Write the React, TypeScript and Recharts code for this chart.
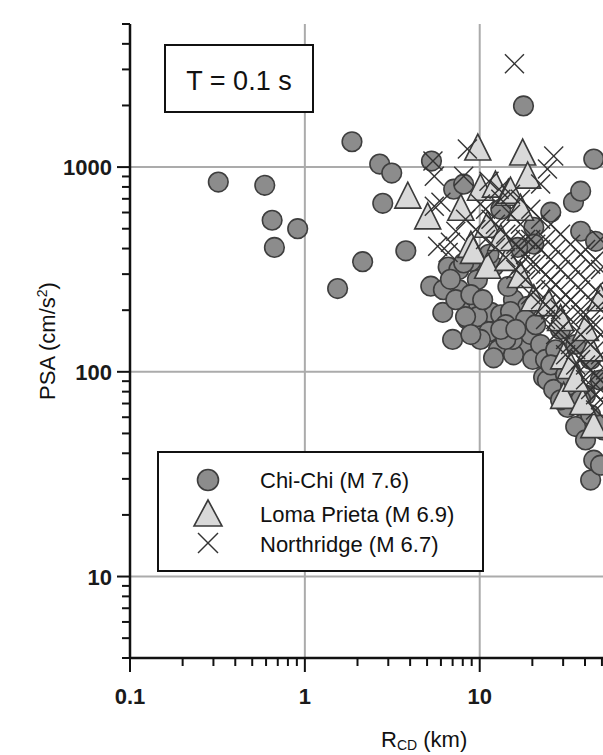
import React from 'react';
import { ScatterChart, Scatter, XAxis, YAxis, CartesianGrid } from 'recharts';

// ---- Data (R_CD km, PSA cm/s^2) ----
const chiChiPoints: [number, number][] = [
  [0.32, 845], [0.59, 815], [0.65, 550], [0.67, 405], [0.91, 500],
  [1.86, 1330], [2.14, 345], [1.54, 255], [2.68, 1035], [3.14, 935],
  [2.79, 665], [3.78, 390], [5.3, 1070], [17.8, 1990], [44.9, 1094],
  [7.1, 780], [8.1, 825], [6.6, 325], [7.6, 316], [5.25, 262],
  [6.15, 195], [7.0, 144], [8.5, 213], [9.9, 209], [11.6, 195],
  [11.6, 157], [12.8, 128], [12.0, 117], [17.1, 176], [17.8, 133],
  [15.6, 121], [21.4, 118], [23.2, 94], [27.9, 79], [31.8, 67],
  [39.3, 56], [44.9, 37], [43.1, 29.6], [15.6, 225], [18.8, 209],
  [8.5, 180], [9.7, 186], [13.2, 190], [15.0, 197], [18.3, 180],
  [8.3, 186], [11.3, 157], [15.4, 144], [20.1, 115], [24.8, 118],
  [24.4, 91], [26.5, 82], [29.0, 73], [35.4, 54], [37.8, 486],
  [34.4, 674], [37.8, 763], [46, 434], [25.5, 602], [20.4, 508],
  [20.4, 420], [16.5, 405], [13.2, 622], [12.0, 327], [14.5, 261],
  [9.7, 282], [7.6, 252], [6.2, 252], [8.9, 346], [11.3, 375],
  [6.8, 283], [8.1, 340], [40.3, 46.5], [29, 161], [35.4, 136],
  [43.1, 115], [49, 91], [33, 102], [40.3, 77], [51, 52],
  [7.3, 225], [8.9, 238], [10.4, 225], [14.1, 170], [19.6, 152],
  [22.3, 136], [23.8, 115], [14.1, 144], [10.1, 144], [8.9, 152],
  [13.2, 161], [16.1, 161], [20.9, 170], [27.2, 128], [29, 108],
  [33.1, 86.5], [37.8, 73], [43.1, 61.6], [49.1, 55], [49.1, 35],
  [25.5, 108], [31, 96.6],
];

const lomaPrietaPoints: [number, number][] = [
  [3.88, 713], [5.04, 565], [9.75, 1225], [17.6, 1158], [10.1, 780],
  [12.3, 807], [14.6, 737], [18.8, 893], [7.8, 622], [8.9, 410],
  [9.2, 383], [11.1, 324], [14.5, 354], [11.1, 514], [15.0, 754],
  [17.1, 292], [20.4, 225], [24.8, 213], [30.2, 117], [33.1, 105],
  [43.1, 128], [30.2, 75], [44.9, 54], [38.8, 70], [13.2, 443],
  [17.1, 622], [29, 180], [40.3, 161], [49, 225], [35.4, 91],
];

const northridgePoints: [number, number][] = [
  [15.8, 3200], [5.4, 1070], [8.5, 1225], [26.5, 1132], [5.5, 903],
  [8.1, 903], [6.0, 674], [5.5, 644], [5.75, 410], [6.8, 429],
  [6.6, 383], [8.3, 556], [7.3, 486], [10.8, 622], [12.3, 526],
  [14.1, 470], [13.2, 697], [15.0, 589], [17.1, 526], [16.1, 420],
  [18.3, 374], [19.6, 443], [20.9, 335], [22.3, 396], [23.8, 299],
  [25.5, 354], [27.2, 267], [29.0, 316], [31, 238], [33.1, 282],
  [35.4, 213], [37.8, 252], [40.3, 190], [43.1, 225], [46, 170],
  [49.1, 201], [29.0, 225], [33.1, 180], [37.8, 152], [43.1, 136],
  [49.1, 121], [23.8, 443], [27.2, 396], [31.0, 354], [35.4, 316],
  [40.3, 282], [46, 252], [49.1, 316], [43.1, 335], [37.8, 374],
  [33.1, 420], [29.0, 470], [25.5, 526], [22.3, 556], [19.6, 622],
  [17.1, 697], [15.0, 737], [12.9, 780], [11.3, 853], [35.4, 128],
  [40.3, 108], [46, 96], [49.1, 82], [43.1, 82], [31.0, 144],
  [27.2, 180], [23.8, 213], [20.9, 252], [18.3, 282], [16.1, 316],
  [14.1, 362], [12.3, 405], [10.8, 443], [9.5, 496], [10.1, 660],
  [22.3, 826], [24.4, 978], [17.1, 396], [19.6, 335], [25.5, 252],
  [29, 201], [33.1, 225], [37.8, 190], [43.1, 170], [49.1, 152],
  [49.1, 443], [46, 354], [40.3, 396],
  [19.6, 238], [22.3, 225], [25.5, 201], [23.8, 180], [27.2, 152],
  [31, 121], [35.4, 108], [40.3, 91.4], [46, 77.3], [29, 161],
  [33.1, 136], [37.8, 115], [43.1, 102], [49.1, 91.4], [49.1, 73],
  [46, 65], [52.5, 102], [52.5, 144], [52.5, 225], [22.3, 316],
  [25.5, 282], [17.1, 335], [15.0, 443], [13.2, 496], [11.6, 556],
  [18.3, 443], [20.9, 420],
];

const xMajorTicks = [0.1, 1, 10, 100];
const xTickLabels = ['0.1', '1', '10'];
const xMinorTicks = [
  0.2, 0.3, 0.4, 0.5, 0.6, 0.7, 0.8, 0.9,
  2, 3, 4, 5, 6, 7, 8, 9,
  20, 30, 40, 50, 60, 70, 80, 90,
  200, 300,
];
const yMajorTicks = [10, 100, 1000];
const yTickLabels = ['10', '100', '1000'];
const yMinorTicks = [
  4, 5, 6, 7, 8, 9,
  20, 30, 40, 50, 60, 70, 80, 90,
  200, 300, 400, 500, 600, 700, 800, 900,
  2000, 3000, 4000, 5000,
];

const seriesNames = ['Chi-Chi (M 7.6)', 'Loma Prieta (M 6.9)', 'Northridge (M 6.7)'];
const panelLabel = 'T = 0.1 s';

const toObjs = (pts: [number, number][]) => pts.map(([x, y]) => ({ x, y }));
const chiChiData = toObjs(chiChiPoints);
const lomaData = toObjs(lomaPrietaPoints);
const northData = toObjs(northridgePoints);

const allXTicks = [...xMajorTicks, ...xMinorTicks].sort((a, b) => a - b);
const allYTicks = [...yMajorTicks, ...yMinorTicks].sort((a, b) => a - b);

const FONT = '"Liberation Sans", Arial, sans-serif';
const CIRCLE_FILL = '#8c8c8c';
const CIRCLE_STROKE = '#3e3e3e';
const TRI_FILL = '#d9d9d9';
const TRI_STROKE = '#3a3a3a';
const X_STROKE = '#333333';

const isIn = (arr: number[], v: number) => arr.findIndex((a) => Math.abs(a - v) / a < 1e-6);

const XTickBottom = (props: any) => {
  const { x, y, payload } = props;
  const idx = isIn(xMajorTicks, payload.value);
  const major = idx >= 0;
  const label = major ? xTickLabels[idx] : undefined;
  return (
    <g>
      <line x1={x} x2={x} y1={y} y2={y + (major ? 14 : 8)} stroke="#111" strokeWidth={2} />
      {label && (
        <text x={x} y={y + 46} textAnchor="middle" fontFamily={FONT} fontSize={22} fontWeight="bold" fill="#1a1a1a">
          {label}
        </text>
      )}
    </g>
  );
};

const XTickTop = (props: any) => {
  const { x, y, payload } = props;
  const major = isIn(xMajorTicks, payload.value) >= 0;
  return <line x1={x} x2={x} y1={y} y2={y - (major ? 14 : 8)} stroke="#111" strokeWidth={2} />;
};

const YTickLeft = (props: any) => {
  const { x, y, payload } = props;
  const idx = isIn(yMajorTicks, payload.value);
  const major = idx >= 0;
  return (
    <g>
      <line x1={x} x2={x - (major ? 13 : 8)} y1={y} y2={y} stroke="#111" strokeWidth={2} />
      {major && (
        <text x={x - 18} y={y + 8} textAnchor="end" fontFamily={FONT} fontSize={22} fontWeight="bold" fill="#1a1a1a">
          {yTickLabels[idx]}
        </text>
      )}
    </g>
  );
};

const CircleMark = (p: any) => (
  <circle cx={p.cx} cy={p.cy} r={9.8} fill={CIRCLE_FILL} stroke={CIRCLE_STROKE} strokeWidth={1.6} />
);
const TriangleMark = (p: any) => (
  <polygon
    points={`${p.cx},${p.cy - 15} ${p.cx - 13},${p.cy + 11} ${p.cx + 13},${p.cy + 11}`}
    fill={TRI_FILL}
    stroke={TRI_STROKE}
    strokeWidth={1.6}
  />
);
const CrossMark = (p: any) => (
  <g stroke={X_STROKE} strokeWidth={1.4}>
    <line x1={p.cx - 9.5} y1={p.cy - 9.5} x2={p.cx + 9.5} y2={p.cy + 9.5} />
    <line x1={p.cx - 9.5} y1={p.cy + 9.5} x2={p.cx + 9.5} y2={p.cy - 9.5} />
  </g>
);

export default function App() {
  return (
    <div
      style={{
        position: 'fixed',
        left: 8,
        top: 8,
        width: 595,
        height: 747,
        overflow: 'hidden',
        background: '#fff',
      }}
    >
      <ScatterChart width={760} height={747} margin={{ top: 16, right: 30, bottom: 57, left: 0 }}>
        <CartesianGrid
          horizontalValues={yMajorTicks}
          verticalValues={[1, 10, 100]}
          stroke="#ababab"
          strokeWidth={2}
        />
        <XAxis
          xAxisId={0}
          dataKey="x"
          type="number"
          scale="log"
          domain={[0.1, 300]}
          allowDataOverflow
          ticks={allXTicks}
          interval={0}
          tick={<XTickBottom />}
          tickLine={false}
          tickSize={0}
          tickMargin={0}
          height={40}
          axisLine={{ stroke: '#111', strokeWidth: 2.5 }}
        />
        <XAxis
          xAxisId="top"
          orientation="top"
          dataKey="x"
          type="number"
          scale="log"
          domain={[0.1, 300]}
          allowDataOverflow
          ticks={allXTicks}
          interval={0}
          tick={<XTickTop />}
          tickLine={false}
          tickSize={0}
          tickMargin={0}
          height={0}
          axisLine={{ stroke: '#111', strokeWidth: 2.5 }}
        />
        <YAxis
          dataKey="y"
          type="number"
          scale="log"
          domain={[4, 5000]}
          allowDataOverflow
          ticks={allYTicks}
          interval={0}
          tick={<YTickLeft />}
          tickLine={false}
          tickSize={0}
          tickMargin={0}
          width={122}
          axisLine={{ stroke: '#111', strokeWidth: 2.5 }}
        />
        <Scatter name={seriesNames[0]} data={chiChiData} shape={CircleMark} isAnimationActive={false} />
        <Scatter name={seriesNames[1]} data={lomaData} shape={TriangleMark} isAnimationActive={false} />
        <Scatter name={seriesNames[2]} data={northData} shape={CrossMark} isAnimationActive={false} />
      </ScatterChart>
      <svg
        width={595}
        height={747}
        style={{ position: 'absolute', left: 0, top: 0, pointerEvents: 'none' }}
        fontFamily={FONT}
      >
        {/* panel label */}
        <rect x={157} y={37} width={148} height={67} fill="#fff" stroke="#111" strokeWidth={2} />
        <text x={231} y={82} textAnchor="middle" fontSize={27} fill="#111">{panelLabel}</text>

        {/* legend */}
        <rect x={150} y={444} width={325} height={119} fill="#fff" stroke="#111" strokeWidth={2} />
        <circle cx={200} cy={472} r={10.5} fill={CIRCLE_FILL} stroke={CIRCLE_STROKE} strokeWidth={1.6} />
        <polygon points="200,492 186,518 214,518" fill={TRI_FILL} stroke={TRI_STROKE} strokeWidth={1.6} />
        <g stroke={X_STROKE} strokeWidth={1.4}>
          <line x1={190} y1={525} x2={210} y2={545} />
          <line x1={190} y1={545} x2={210} y2={525} />
        </g>
        <text x={252} y={480} fontSize={22} fill="#111">{seriesNames[0]}</text>
        <text x={252} y={514} fontSize={22} fill="#111">{seriesNames[1]}</text>
        <text x={252} y={544} fontSize={22} fill="#111">{seriesNames[2]}</text>

        {/* axis titles */}
        <text transform="translate(47,333) rotate(-90)" textAnchor="middle" fontSize={22} fill="#111">
          PSA (cm/s<tspan dy={-8} fontSize={14}>2</tspan><tspan dy={8}>)</tspan>
        </text>
        <text x={373} y={739} fontSize={22} fill="#111">
          R<tspan dy={3} fontSize={14}>CD</tspan><tspan dy={-3}> (km)</tspan>
        </text>
      </svg>
    </div>
  );
}
